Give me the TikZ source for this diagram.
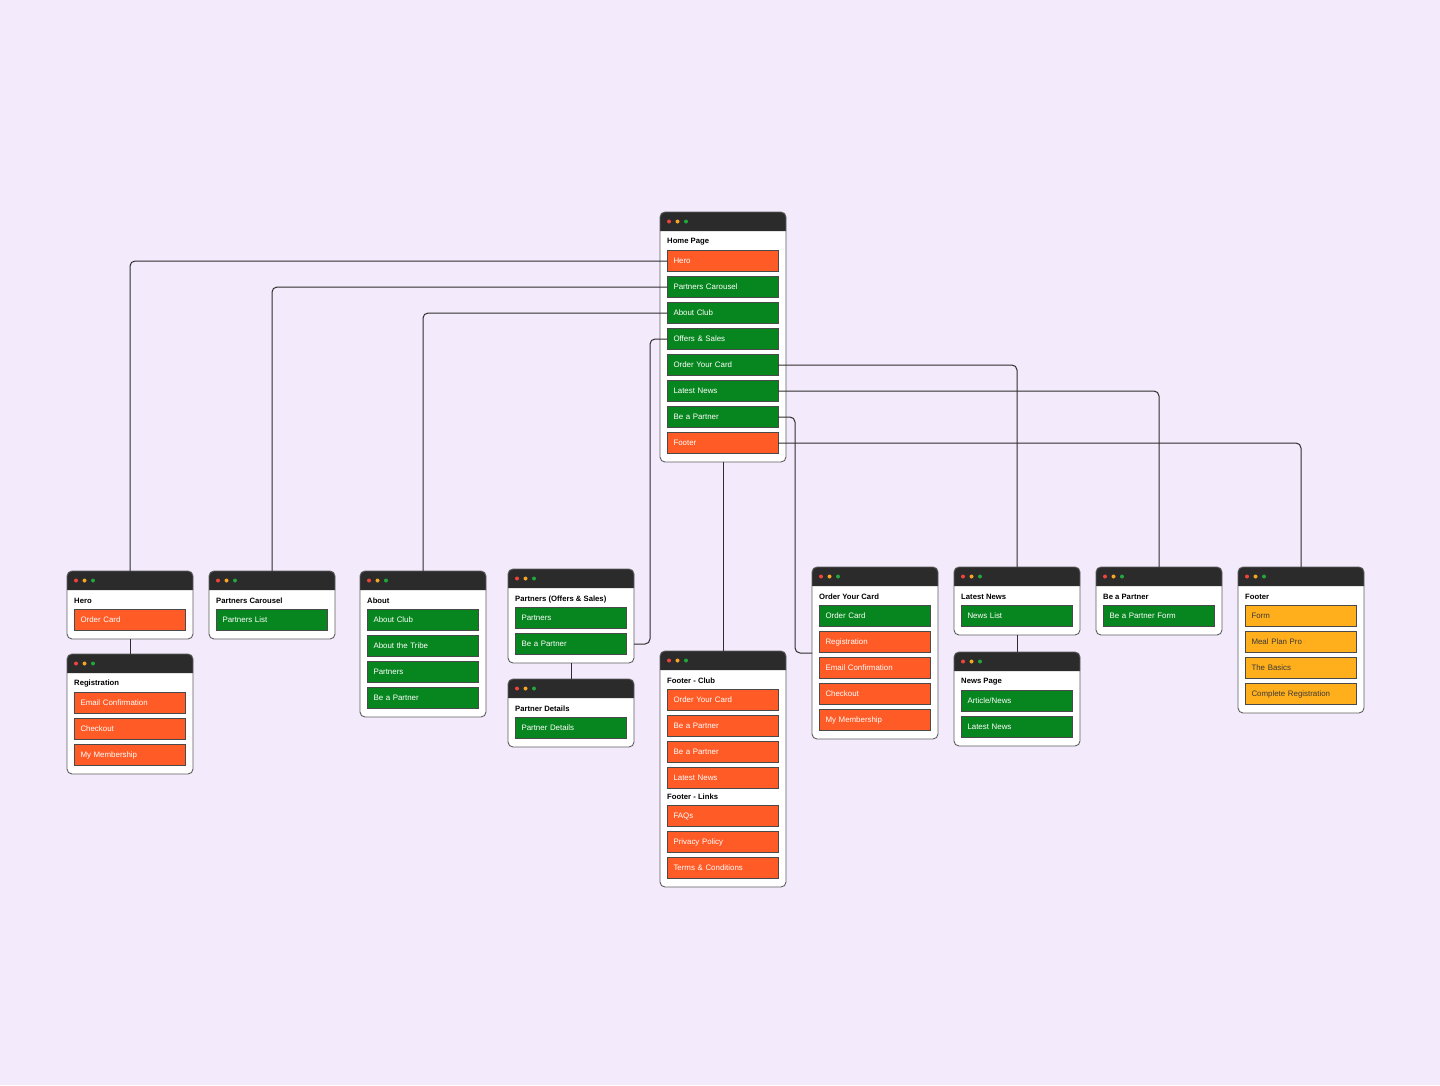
\documentclass[tikz,border=0pt]{standalone}
\usepackage{fontspec}
\setmainfont{Liberation Sans}
\usetikzlibrary{calc}
\definecolor{bg}{HTML}{F3EAFC}
\definecolor{hdr}{HTML}{2B2B2B}
\definecolor{orn}{HTML}{FF5B26}
\definecolor{grn}{HTML}{07861F}
\definecolor{ylw}{HTML}{FFAE1C}
\definecolor{dred}{HTML}{F0443A}
\definecolor{dyel}{HTML}{F5A623}
\definecolor{dgrn}{HTML}{22A73C}
\definecolor{edgec}{HTML}{5E5E5E}
\definecolor{itemedge}{HTML}{4A4A4A}
\definecolor{conncol}{HTML}{2E2E2E}
\definecolor{darktxt}{HTML}{3A3A3A}
\tikzset{
  cardbox/.style={rectangle, fill=white, minimum width=126pt, inner sep=0pt, outer sep=0pt, rounded corners=5pt},
  ttl/.style={font=\bfseries\fontsize{7.7}{9}\selectfont, text=black, inner sep=0pt, anchor=west},
  itembox/.style={rectangle, draw=itemedge, line width=0.8pt, minimum width=111pt, minimum height=21pt,
     inner xsep=6.5pt, inner ysep=0pt, text width=98pt, align=left, outer sep=0pt, anchor=west,
     font=\fontsize{7.9}{9}\selectfont},
  oitem/.style={itembox, fill=orn, text=white},
  gitem/.style={itembox, fill=grn, text=white},
  yitem/.style={itembox, fill=ylw, text=darktxt},
  conn/.style={draw=conncol, line width=1pt, rounded corners=5pt},
  dot/.style={inner sep=0pt, outer sep=0pt, circle, minimum size=4pt},
}
% name, left, top, height, title
\newcommand\mkcard[5]{%
  \node[cardbox, minimum height=#4pt, anchor=north west] (#1) at (#2,#3) {};
  \fill[hdr] (#2,#3+19) {[rounded corners=5pt] -- (#2,#3) -- (#2+126,#3)} -- (#2+126,#3+19) -- cycle;
  \draw[edgec, line width=0.9pt, rounded corners=5pt] (#1.north west) rectangle (#1.south east);
  \node[dot, fill=dred] (#1-d1) at (#2+9,#3+9.5) {};
  \node[dot, fill=dyel] (#1-d2) at (#2+17.5,#3+9.5) {};
  \node[dot, fill=dgrn] (#1-d3) at (#2+26,#3+9.5) {};
  \node[ttl] (#1-t) at (#2+7,#3+30) {#5};
}
% style, name, left, centre y, text
\newcommand\mkitem[5]{\node[#1] (#2) at (#3+7,#4) {#5};}
\begin{document}
\begin{tikzpicture}[x=1pt,y=-1pt]
\fill[bg] (0,0) rectangle (1440,1085);
\useasboundingbox (0,0) rectangle (1440,1085);

% Home page
\mkcard{home}{660}{212}{250}{Home Page}
\mkitem{oitem}{h1}{660}{261}{Hero}
\mkitem{gitem}{h2}{660}{287}{Partners Carousel}
\mkitem{gitem}{h3}{660}{313}{About Club}
\mkitem{gitem}{h4}{660}{339}{Offers \& Sales}
\mkitem{gitem}{h5}{660}{365}{Order Your Card}
\mkitem{gitem}{h6}{660}{391}{Latest News}
\mkitem{gitem}{h7}{660}{417}{Be a Partner}
\mkitem{oitem}{h8}{660}{443}{Footer}

% Hero
\mkcard{hero}{67}{571}{68}{Hero}
\mkitem{oitem}{hero1}{67}{620}{Order Card}
% Registration
\mkcard{reg}{67}{654}{120}{Registration}
\mkitem{oitem}{reg1}{67}{703}{Email Confirmation}
\mkitem{oitem}{reg2}{67}{729}{Checkout}
\mkitem{oitem}{reg3}{67}{755}{My Membership}

% Partners Carousel
\mkcard{pc}{209}{571}{68}{Partners Carousel}
\mkitem{gitem}{pc1}{209}{620}{Partners List}

% About
\mkcard{ab}{360}{571}{146}{About}
\mkitem{gitem}{ab1}{360}{620}{About Club}
\mkitem{gitem}{ab2}{360}{646}{About the Tribe}
\mkitem{gitem}{ab3}{360}{672}{Partners}
\mkitem{gitem}{ab4}{360}{698}{Be a Partner}

% Partners (Offers & Sales)
\mkcard{po}{508}{569}{94}{Partners (Offers \& Sales)}
\mkitem{gitem}{po1}{508}{618}{Partners}
\mkitem{gitem}{po2}{508}{644}{Be a Partner}
% Partner Details
\mkcard{pd}{508}{679}{68}{Partner Details}
\mkitem{gitem}{pd1}{508}{728}{Partner Details}

% Footer - Club
\mkcard{fc}{660}{651}{236}{Footer - Club}
\mkitem{oitem}{fc1}{660}{700}{Order Your Card}
\mkitem{oitem}{fc2}{660}{726}{Be a Partner}
\mkitem{oitem}{fc3}{660}{752}{Be a Partner}
\mkitem{oitem}{fc4}{660}{778}{Latest News}
\node[ttl] (fc-t2) at (667,797) {Footer - Links};
\mkitem{oitem}{fc5}{660}{816}{FAQs}
\mkitem{oitem}{fc6}{660}{842}{Privacy Policy}
\mkitem{oitem}{fc7}{660}{868}{Terms \& Conditions}

% Order Your Card
\mkcard{oc}{812}{567}{172}{Order Your Card}
\mkitem{gitem}{oc1}{812}{616}{Order Card}
\mkitem{oitem}{oc2}{812}{642}{Registration}
\mkitem{oitem}{oc3}{812}{668}{Email Confirmation}
\mkitem{oitem}{oc4}{812}{694}{Checkout}
\mkitem{oitem}{oc5}{812}{720}{My Membership}

% Latest News
\mkcard{ln}{954}{567}{68}{Latest News}
\mkitem{gitem}{ln1}{954}{616}{News List}
% News Page
\mkcard{np}{954}{652}{94}{News Page}
\mkitem{gitem}{np1}{954}{701}{Article/News}
\mkitem{gitem}{np2}{954}{727}{Latest News}

% Be a Partner
\mkcard{bp}{1096}{567}{68}{Be a Partner}
\mkitem{gitem}{bp1}{1096}{616}{Be a Partner Form}

% Footer
\mkcard{ft}{1238}{567}{146}{Footer}
\mkitem{yitem}{ft1}{1238}{616}{Form}
\mkitem{yitem}{ft2}{1238}{642}{Meal Plan Pro}
\mkitem{yitem}{ft3}{1238}{668}{The Basics}
\mkitem{yitem}{ft4}{1238}{694}{Complete Registration}

% connectors
\draw[conn] (h1.west) -| (hero.north);
\draw[conn] (h2.west) -| (pc.north);
\draw[conn] (h3.west) -| (ab.north);
\draw[conn] (h4.west) -- ++(-17,0) |- (po.east |- po2.center);
\draw[conn] (h5.east) -| (ln.north);
\draw[conn] (h6.east) -| (bp.north);
\draw[conn] (h7.east) -- ++(17,0) |- (oc.west);
\draw[conn] (h8.east) -| (ft.north);
\draw[conn] (home.south) -- (fc.north);
\draw[conn] (hero.south) -- (reg.north);
\draw[conn] (po.south) -- (pd.north);
\draw[conn] (ln.south) -- (np.north);
\end{tikzpicture}
\end{document}
